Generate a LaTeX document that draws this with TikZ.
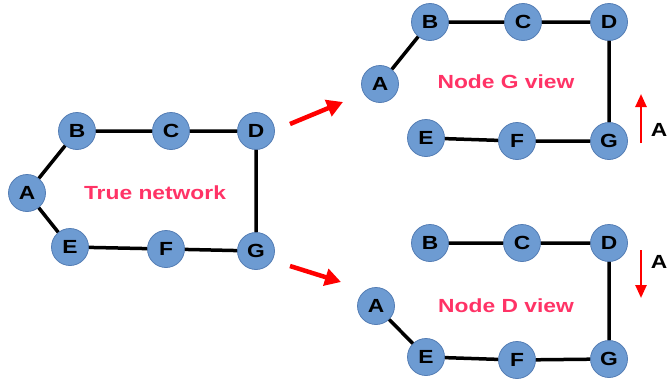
\documentclass[tikz,border=0pt]{standalone}
\usepackage{fontspec}
\setmainfont{Liberation Sans}
\newfontfamily\widefont[FakeStretch=1.2]{Liberation Sans}
\usetikzlibrary{arrows.meta}
\definecolor{nodefill}{RGB}{109,155,210}
\definecolor{nodeedge}{RGB}{84,125,180}
\definecolor{labelpink}{RGB}{255,51,102}
\tikzset{
  vx/.style={circle, fill=nodefill, draw=nodeedge, line width=0.8pt,
    minimum size=37pt, inner sep=0pt, font=\widefont\fontsize{19}{19}\selectfont\bfseries},
  link/.style={line width=3.5pt, black},
  caption/.style={text=labelpink, font=\widefont\fontsize{19}{19}\selectfont\bfseries},
  redarrow/.style={red, line width=4.5pt, -{Triangle[length=16pt,width=17pt]}},
  thinarrow/.style={red, line width=2.5pt, -{Triangle[length=13pt,width=11pt]}},
  alabel/.style={font=\widefont\fontsize{19}{19}\selectfont\bfseries}
}
\begin{document}
\begin{tikzpicture}[x=1pt,y=-1pt]
\useasboundingbox (0,0) rectangle (668,380);

% true network
\node[vx] (A) at (27,193) {A};
\node[vx] (B) at (77,131) {B};
\node[vx] (C) at (171,131) {C};
\node[vx] (D) at (256,131) {D};
\node[vx] (E) at (70,247) {E};
\node[vx] (F) at (166,249) {F};
\node[vx] (G) at (256,251) {G};
\draw[link] (A) -- (B) -- (C) -- (D) -- (G) -- (F) -- (E) -- (A);
\node[caption] (tn) at (155,193) {True network};

% node G view
\node[vx] (gA) at (380,84) {A};
\node[vx] (gB) at (430,22) {B};
\node[vx] (gC) at (523,22) {C};
\node[vx] (gD) at (609,22) {D};
\node[vx] (gE) at (426,138) {E};
\node[vx] (gF) at (517,141) {F};
\node[vx] (gG) at (609,141) {G};
\draw[link] (gA) -- (gB) -- (gC) -- (gD) -- (gG) -- (gF) -- (gE);
\node[caption] (gv) at (506,82) {Node G view};

% node D view
\node[vx] (dA) at (376,306) {A};
\node[vx] (dB) at (430,243) {B};
\node[vx] (dC) at (522,243) {C};
\node[vx] (dD) at (609,243) {D};
\node[vx] (dE) at (426,357) {E};
\node[vx] (dF) at (517,360) {F};
\node[vx] (dG) at (609,359) {G};
\draw[link] (dB) -- (dC) -- (dD) -- (dG) -- (dF) -- (dE) -- (dA);
\node[caption] (dv) at (506,306) {Node D view};

% arrows between views
\coordinate (t1) at (290,124);
\coordinate (h1) at (343,102);
\coordinate (t2) at (290,266);
\coordinate (h2) at (341,282);
\draw[redarrow] (t1) -- (h1);
\draw[redarrow] (t2) -- (h2);

% direction of A
\coordinate (u1) at (641,143);
\coordinate (u2) at (641,94);
\coordinate (v1) at (641,250);
\coordinate (v2) at (641,298);
\draw[thinarrow] (u1) -- (u2);
\draw[thinarrow] (v1) -- (v2);
\node[alabel] (la1) at (659,130) {A};
\node[alabel] (la2) at (659,262) {A};
\end{tikzpicture}
\end{document}
